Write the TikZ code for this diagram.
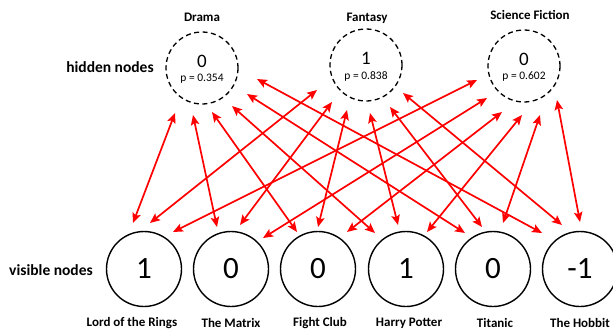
\documentclass[tikz,border=0pt]{standalone}
\usepackage{fontspec}
\setmainfont{Carlito}
\usetikzlibrary{arrows.meta,calc}
\begin{document}
\begin{tikzpicture}[x=1pt,y=-1pt,
  vis/.style={circle,draw=black,line width=1.4pt,minimum size=75pt,inner sep=0pt,font=\fontsize{31}{31}\selectfont},
  hid/.style={circle,draw=black,dash pattern=on 5pt off 3.5pt,line width=1.3pt,minimum size=72pt,inner sep=0pt},
  hval/.style={font=\fontsize{19}{19}\selectfont,inner sep=0pt},
  hp/.style={font=\fontsize{11.5}{11.5}\selectfont,inner sep=0pt},
  lbl/.style={font=\bfseries\fontsize{13}{13}\selectfont,inner sep=0pt},
  side/.style={font=\bfseries\fontsize{15.5}{15.5}\selectfont,inner sep=0pt},
  link/.style={draw=red,line width=1.7pt,{Stealth[length=10pt,width=8.5pt,inset=2pt]}-{Stealth[length=10pt,width=8.5pt,inset=2pt]}}
]
\useasboundingbox (0,0) rectangle (613,335);

% hidden nodes
\node[hid] (h1) at (202,68) {};
\node[hid] (h2) at (366,65) {};
\node[hid] (h3) at (524,66) {};
\node[hval] (h1v) at (202,61) {0};
\node[hval] (h2v) at (366,58) {1};
\node[hval] (h3v) at (524,59) {0};
\node[hp] (h1p) at (202,79) {p = 0.354};
\node[hp] (h2p) at (366,76) {p = 0.838};
\node[hp] (h3p) at (524,77) {p = 0.602};
\node[lbl] (t1) at (202,17) {Drama};
\node[lbl] (t2) at (367,18) {Fantasy};
\node[lbl] (t3) at (530,15) {Science Fiction};
\node[side] (hn) at (110,67) {hidden nodes};

% visible nodes
\node[vis] (v1) at (144,269) {1};
\node[vis] (v2) at (231,269) {0};
\node[vis] (v3) at (318,269) {0};
\node[vis] (v4) at (406,269) {1};
\node[vis] (v5) at (493,269) {0};
\node[vis] (v6) at (580,269) {-1};
\node[side] (vn) at (51,270) {visible nodes};
\node[lbl] (b1) at (132,323) {Lord of the Rings};
\node[lbl] (b2) at (231,323) {The Matrix};
\node[lbl] (b3) at (320,323) {Fight Club};
\node[lbl] (b4) at (409,323) {Harry Potter};
\node[lbl] (b5) at (495,323) {Titanic};
\node[lbl] (b6) at (580,323) {The Hobbit};

% connections
\foreach \v/\vx/\vy/\h/\hx/\hy in {
  v1/-11/-46/h1/-27/45, v1/6/-46/h2/-49/25, v1/29/-37/h3/-47/14,
  v2/-14/-42/h1/-9/47,  v2/9/-44/h2/-34/37,  v2/32/-31/h3/-37/32,
  v3/-21/-37/h1/10/44,  v3/0/-42/h2/-19/45,  v3/29/-37/h3/-22/46,
  v4/-31/-36/h1/30/38,  v4/-8/-44/h2/4/48,   v4/21/-37/h3/-2/49,
  v5/-28/-36/h1/45/26,  v5/-11/-42/h2/24/42, v5/10/-46/h3/16/49,
  v6/-38/-36/h1/55/11,  v6/-18/-44/h2/37/28, v6/0/-47/h3/33/34}
  \draw[link] ($(\v)+(\vx,\vy)$) -- ($(\h)+(\hx,\hy)$);
\end{tikzpicture}
\end{document}
